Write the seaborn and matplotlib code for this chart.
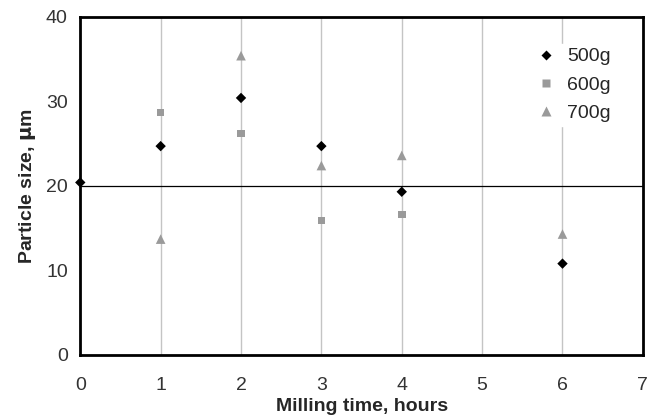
import matplotlib
matplotlib.use('Agg')
import matplotlib.pyplot as plt
import pandas as pd
import seaborn as sns

# milling time (hours) and particle size (um) per ball load
time_500 = [0, 1, 2, 3, 4, 6]
size_500 = [20.4, 24.7, 30.4, 24.7, 19.3, 10.8]
time_600 = [1, 2, 3, 4]
size_600 = [28.7, 26.2, 15.9, 16.6]
time_700 = [1, 2, 3, 4, 6]
size_700 = [13.7, 35.4, 22.4, 23.6, 14.3]

xticks = [0, 1, 2, 3, 4, 5, 6, 7]
yticks = [0, 10, 20, 30, 40]

df = pd.concat([
    pd.DataFrame({'time': time_500, 'size': size_500, 'load': '500g'}),
    pd.DataFrame({'time': time_600, 'size': size_600, 'load': '600g'}),
    pd.DataFrame({'time': time_700, 'size': size_700, 'load': '700g'}),
])

sns.set_style('white')
plt.rcParams['font.family'] = ['Liberation Sans', 'DejaVu Sans']

fig, ax = plt.subplots(figsize=(6.58, 4.2), dpi=100)
fig.subplots_adjust(left=0.122, right=0.977, top=0.96, bottom=0.155)

# light vertical grid
for x in xticks[1:-1]:
    ax.axvline(x, color='#c4c4c4', lw=1.0, zorder=0)
ax.axhline(20, color='black', lw=0.9, zorder=1)

sns.scatterplot(data=df, x='time', y='size', hue='load', style='load', size='load',
                palette={'500g': 'black', '600g': '#9a9a9a', '700g': '#9a9a9a'},
                markers={'500g': 'D', '600g': 's', '700g': '^'},
                sizes={'500g': 28, '600g': 30, '700g': 48},
                edgecolor='none', ax=ax, zorder=3, clip_on=False)

ax.set_xlim(0, 7)
ax.set_ylim(0, 40)
ax.set_xticks(xticks)
ax.set_yticks(yticks)
ax.tick_params(axis='both', labelsize=14, direction='out', length=4, width=1.5,
               colors='black', labelcolor='#333333')
ax.tick_params(axis='x', pad=12)
ax.tick_params(axis='y', length=3, pad=6)
ax.set_xlabel('Milling time, hours', fontsize=14, fontweight='bold', labelpad=3)
ax.set_ylabel('Particle size, $\\mathbf{\\mu}$m', fontsize=14, fontweight='bold', labelpad=6)
for sp in ax.spines.values():
    sp.set_color('black')
    sp.set_linewidth(2)

leg = ax.legend(loc='upper right', bbox_to_anchor=(0.95, 0.92), frameon=True,
                fontsize=14, handletextpad=0.1, labelspacing=0.55,
                borderaxespad=0, borderpad=0.2, markerscale=1.0)
leg.get_frame().set_edgecolor('white')
leg.get_frame().set_facecolor('white')
leg.get_frame().set_alpha(1)
leg.get_frame().set_boxstyle('square', pad=0)

fig.savefig('out.png', dpi=100)
